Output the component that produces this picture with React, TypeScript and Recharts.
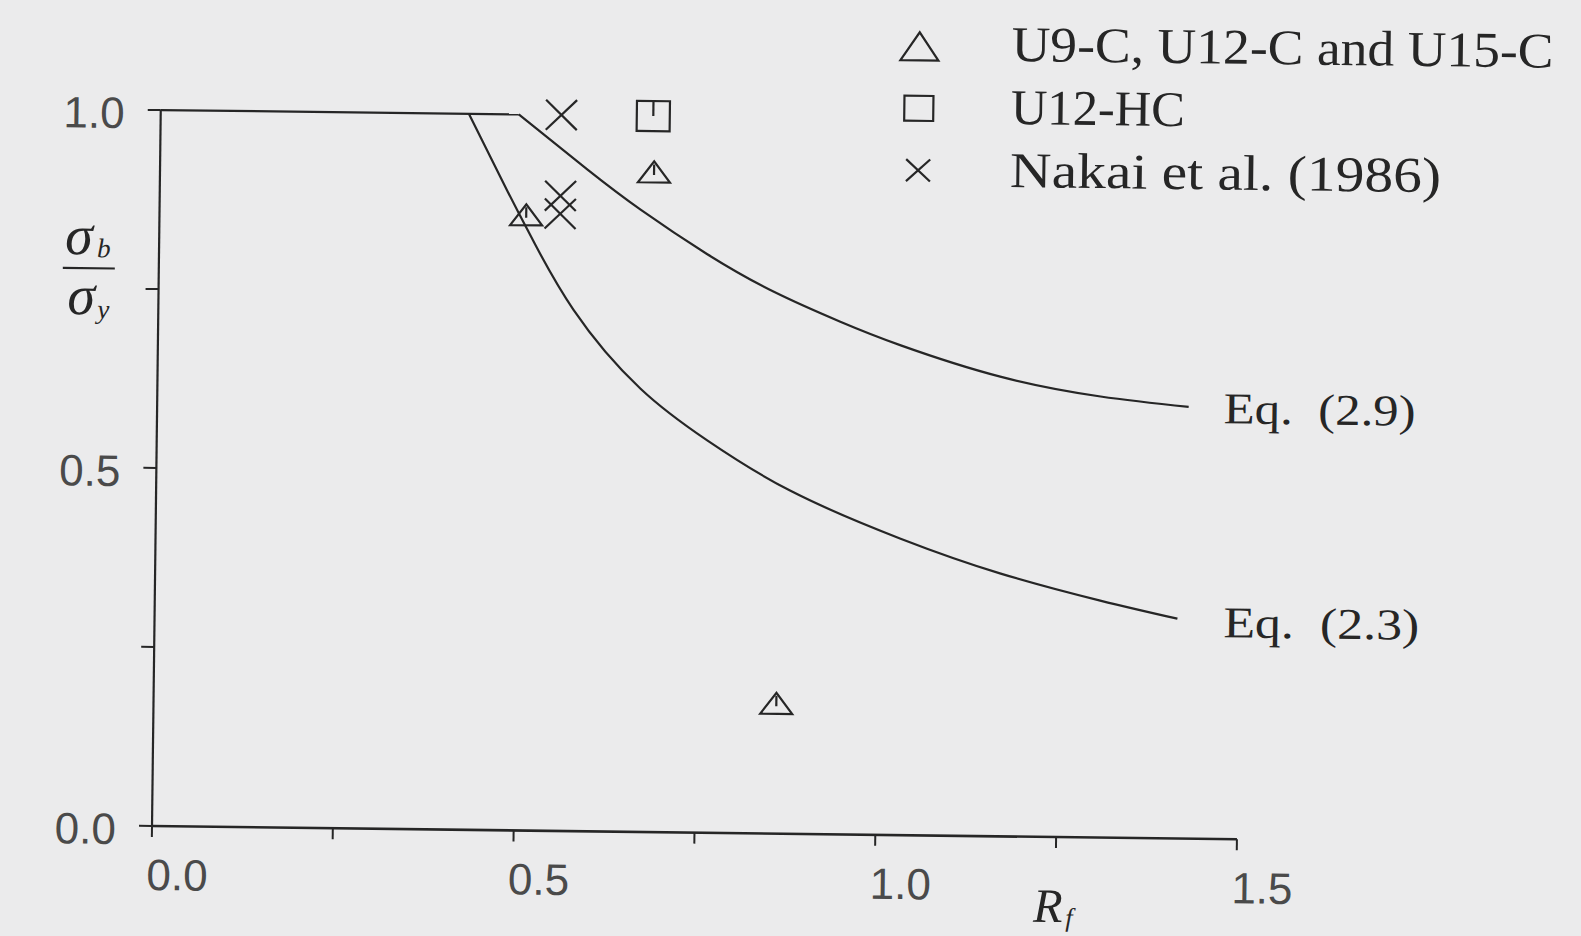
import { ComposedChart, Label, Legend, Line, Scatter, XAxis, YAxis } from "recharts";

// flat cut-off at sigma_b / sigma_y = 1 shared by both design curves
const PLATEAU_R = [0, 0.495];
const PLATEAU_RATIO = [1.0, 1.0];

// Eq. (2.9)
const EQ29_R = [0.495, 0.591, 0.665, 0.758, 0.85, 0.943, 1.027, 1.165, 1.304, 1.426];
const EQ29_RATIO = [1.0, 0.924, 0.869, 0.808, 0.757, 0.716, 0.684, 0.642, 0.616, 0.603];

// Eq. (2.3)
const EQ23_R = [0.426, 0.48, 0.509, 0.574, 0.668, 0.761, 0.877, 1.03, 1.169, 1.307, 1.414];
const EQ23_RATIO = [1.0, 0.894, 0.839, 0.728, 0.619, 0.548, 0.479, 0.414, 0.367, 0.331, 0.307];

// test results
const CHANNEL_R = [0.507, 0.683, 0.861];
const CHANNEL_RATIO = [0.86, 0.922, 0.182];
const HC_R = [0.681];
const HC_RATIO = [1.0];
const NAKAI_R = [0.554, 0.554, 0.554];
const NAKAI_RATIO = [1.0, 0.887, 0.862];

const X_TICKS = [0, 0.25, 0.5, 0.75, 1.0, 1.25, 1.5];
const X_LABELED = [0, 0.5, 1.0, 1.5];
const Y_TICKS = [0, 0.25, 0.5, 0.75, 1.0];
const Y_LABELED = [0, 0.5, 1.0];

const INK = "#262626";
const PAPER = "#ebebec";
const SERIF = '"Liberation Serif", "Times New Roman", serif';
const SANS = '"Liberation Sans", Arial, sans-serif';

const zip = (xs: number[], ys: number[]) => xs.map((x, i) => ({ x, y: ys[i] }));

type MarkProps = { cx?: number; cy?: number; w: number; h: number; tick?: boolean };

function TriangleMark({ cx = 0, cy = 0, w, h, tick }: MarkProps) {
  const hw = w / 2;
  const hh = h / 2;
  return (
    <g fill="none" stroke={INK} strokeWidth={2.2}>
      <path d={`M${cx - hw},${cy + hh}L${cx + hw},${cy + hh}L${cx},${cy - hh}Z`} />
      {tick && <line x1={cx} y1={cy - hh + 3} x2={cx} y2={cy + 3} />}
    </g>
  );
}

function SquareMark({ cx = 0, cy = 0, w, h, tick }: MarkProps) {
  return (
    <g fill="none" stroke={INK} strokeWidth={2.2}>
      <rect x={cx - w / 2} y={cy - h / 2} width={w} height={h} />
      {tick && <line x1={cx} y1={cy - h / 2} x2={cx} y2={cy} />}
    </g>
  );
}

function CrossMark({ cx = 0, cy = 0, w, h }: MarkProps) {
  const hw = w / 2;
  const hh = h / 2;
  return (
    <g fill="none" stroke={INK} strokeWidth={2.2}>
      <line x1={cx - hw} y1={cy - hh} x2={cx + hw} y2={cy + hh} />
      <line x1={cx - hw} y1={cy + hh} x2={cx + hw} y2={cy - hh} />
    </g>
  );
}

const SERIES = [
  {
    name: "U9-C, U12-C and U15-C",
    data: zip(CHANNEL_R, CHANNEL_RATIO),
    Mark: TriangleMark,
    size: [32, 21],
    legendSize: [38, 28],
    textWidth: 542,
  },
  {
    name: "U12-HC",
    data: zip(HC_R, HC_RATIO),
    Mark: SquareMark,
    size: [33, 30],
    legendSize: [29, 25],
    textWidth: 174,
  },
  {
    name: "Nakai et al. (1986)",
    data: zip(NAKAI_R, NAKAI_RATIO),
    Mark: CrossMark,
    size: [31, 30],
    legendSize: [24, 22],
    textWidth: 431,
  },
];

const CURVES = [
  { name: "Eq. (2.9)", data: zip(EQ29_R, EQ29_RATIO), gap: 35, drop: 16, textWidth: 192 },
  { name: "Eq. (2.3)", data: zip(EQ23_R, EQ23_RATIO), gap: 46, drop: 18, textWidth: 196 },
];

function XTick({ x, y, payload }: any) {
  if (!X_LABELED.includes(payload.value)) return null;
  return (
    <text x={x - 5} y={y + 51} fontFamily={SANS} fontSize={44} fill="#4a4a4a">
      {payload.value.toFixed(1)}
    </text>
  );
}

function YTick({ x, y, payload }: any) {
  if (!Y_LABELED.includes(payload.value)) return null;
  return (
    <text x={x - 21} y={y + 3} textAnchor="end" dominantBaseline="central" fontFamily={SANS} fontSize={44} fill="#4a4a4a">
      {payload.value.toFixed(1)}
    </text>
  );
}

function RatioLabel({ viewBox }: any) {
  const cx = viewBox.x - 10;
  const bar = viewBox.y + 159;
  return (
    <g fontFamily={SERIF} fontStyle="italic" fill={INK}>
      <text x={cx - 24} y={bar - 14} fontSize={56}>σ</text>
      <text x={cx + 8} y={bar - 11} fontSize={27}>b</text>
      <line x1={cx - 26} y1={bar} x2={cx + 26} y2={bar} stroke={INK} strokeWidth={2.2} />
      <text x={cx - 21} y={bar + 46} fontSize={56}>σ</text>
      <text x={cx + 9} y={bar + 50} fontSize={27}>y</text>
    </g>
  );
}

function RfLabel({ viewBox }: any) {
  return (
    <text x={viewBox.x + 882} y={viewBox.y + 85} fontFamily={SERIF} fontStyle="italic" fontSize={48} fill={INK}>
      R
      <tspan fontSize={26} dx={3} dy={4}>f</tspan>
    </text>
  );
}

function LegendBox() {
  return (
    <svg width={700} height={200}>
      {SERIES.map((s, i) => {
        const M = s.Mark;
        return (
          <g key={s.name}>
            <M cx={30} cy={37 + i * 62} w={s.legendSize[0]} h={s.legendSize[1]} />
            <text
              x={122}
              y={50.5 + i * 63}
              fontFamily={SERIF}
              fontSize={50}
              fill={INK}
              textLength={s.textWidth}
              lengthAdjust="spacingAndGlyphs"
            >
              {s.name}
            </text>
          </g>
        );
      })}
    </svg>
  );
}

export default function App() {
  return (
    <div style={{ position: "absolute", left: 0, top: 0, width: 1581, height: 936, overflow: "hidden", background: PAPER }}>
      <div style={{ width: 1581, height: 936, transform: "rotate(0.7deg)", transformOrigin: "152px 826px" }}>
        <ComposedChart width={1581} height={936} margin={{ top: 110, right: 344, bottom: 50, left: 92 }}>
          <XAxis
            type="number"
            dataKey="x"
            domain={[0, 1.5]}
            ticks={X_TICKS}
            interval={0}
            height={60}
            tickSize={11}
            axisLine={{ stroke: INK, strokeWidth: 2.6 }}
            tickLine={{ stroke: INK, strokeWidth: 2 }}
            tick={(p: any) => <XTick {...p} />}
          >
            <Label content={(p: any) => <RfLabel {...p} />} />
          </XAxis>
          <YAxis
            type="number"
            dataKey="y"
            domain={[0, 1]}
            ticks={Y_TICKS}
            interval={0}
            width={60}
            tickSize={13}
            axisLine={{ stroke: INK, strokeWidth: 2.2 }}
            tickLine={{ stroke: INK, strokeWidth: 2 }}
            tick={(p: any) => <YTick {...p} />}
          >
            <Label content={(p: any) => <RatioLabel {...p} />} />
          </YAxis>
          <Line
            data={zip(PLATEAU_R, PLATEAU_RATIO)}
            dataKey="y"
            type="linear"
            stroke={INK}
            strokeWidth={2.2}
            dot={false}
            activeDot={false}
            legendType="none"
            isAnimationActive={false}
          />
          {CURVES.map((c) => (
            <Line
              key={c.name}
              name={c.name}
              data={c.data}
              dataKey="y"
              type="natural"
              stroke={INK}
              strokeWidth={2.2}
              dot={false}
              activeDot={false}
              legendType="none"
              isAnimationActive={false}
              label={(p: any) =>
                p.index === c.data.length - 1 ? (
                  <text
                    x={p.x + c.gap}
                    y={p.y + c.drop}
                    fontFamily={SERIF}
                    fontSize={44}
                    fill={INK}
                    textLength={c.textWidth}
                    lengthAdjust="spacingAndGlyphs"
                  >
                    {c.name.replace(" ", "\u00a0\u00a0")}
                  </text>
                ) : (
                  <g />
                )
              }
            />
          ))}
          {SERIES.map((s) => (
            <Scatter
              key={s.name}
              name={s.name}
              data={s.data}
              dataKey="y"
              isAnimationActive={false}
              shape={(p: any) => <s.Mark cx={p.cx} cy={p.cy} w={s.size[0]} h={s.size[1]} tick />}
            />
          ))}
          <Legend
            layout="vertical"
            align="center"
            verticalAlign="middle"
            content={() => <LegendBox />}
            wrapperStyle={{ left: 880, top: 0, width: 700, height: 200 }}
          />
        </ComposedChart>
      </div>
    </div>
  );
}
